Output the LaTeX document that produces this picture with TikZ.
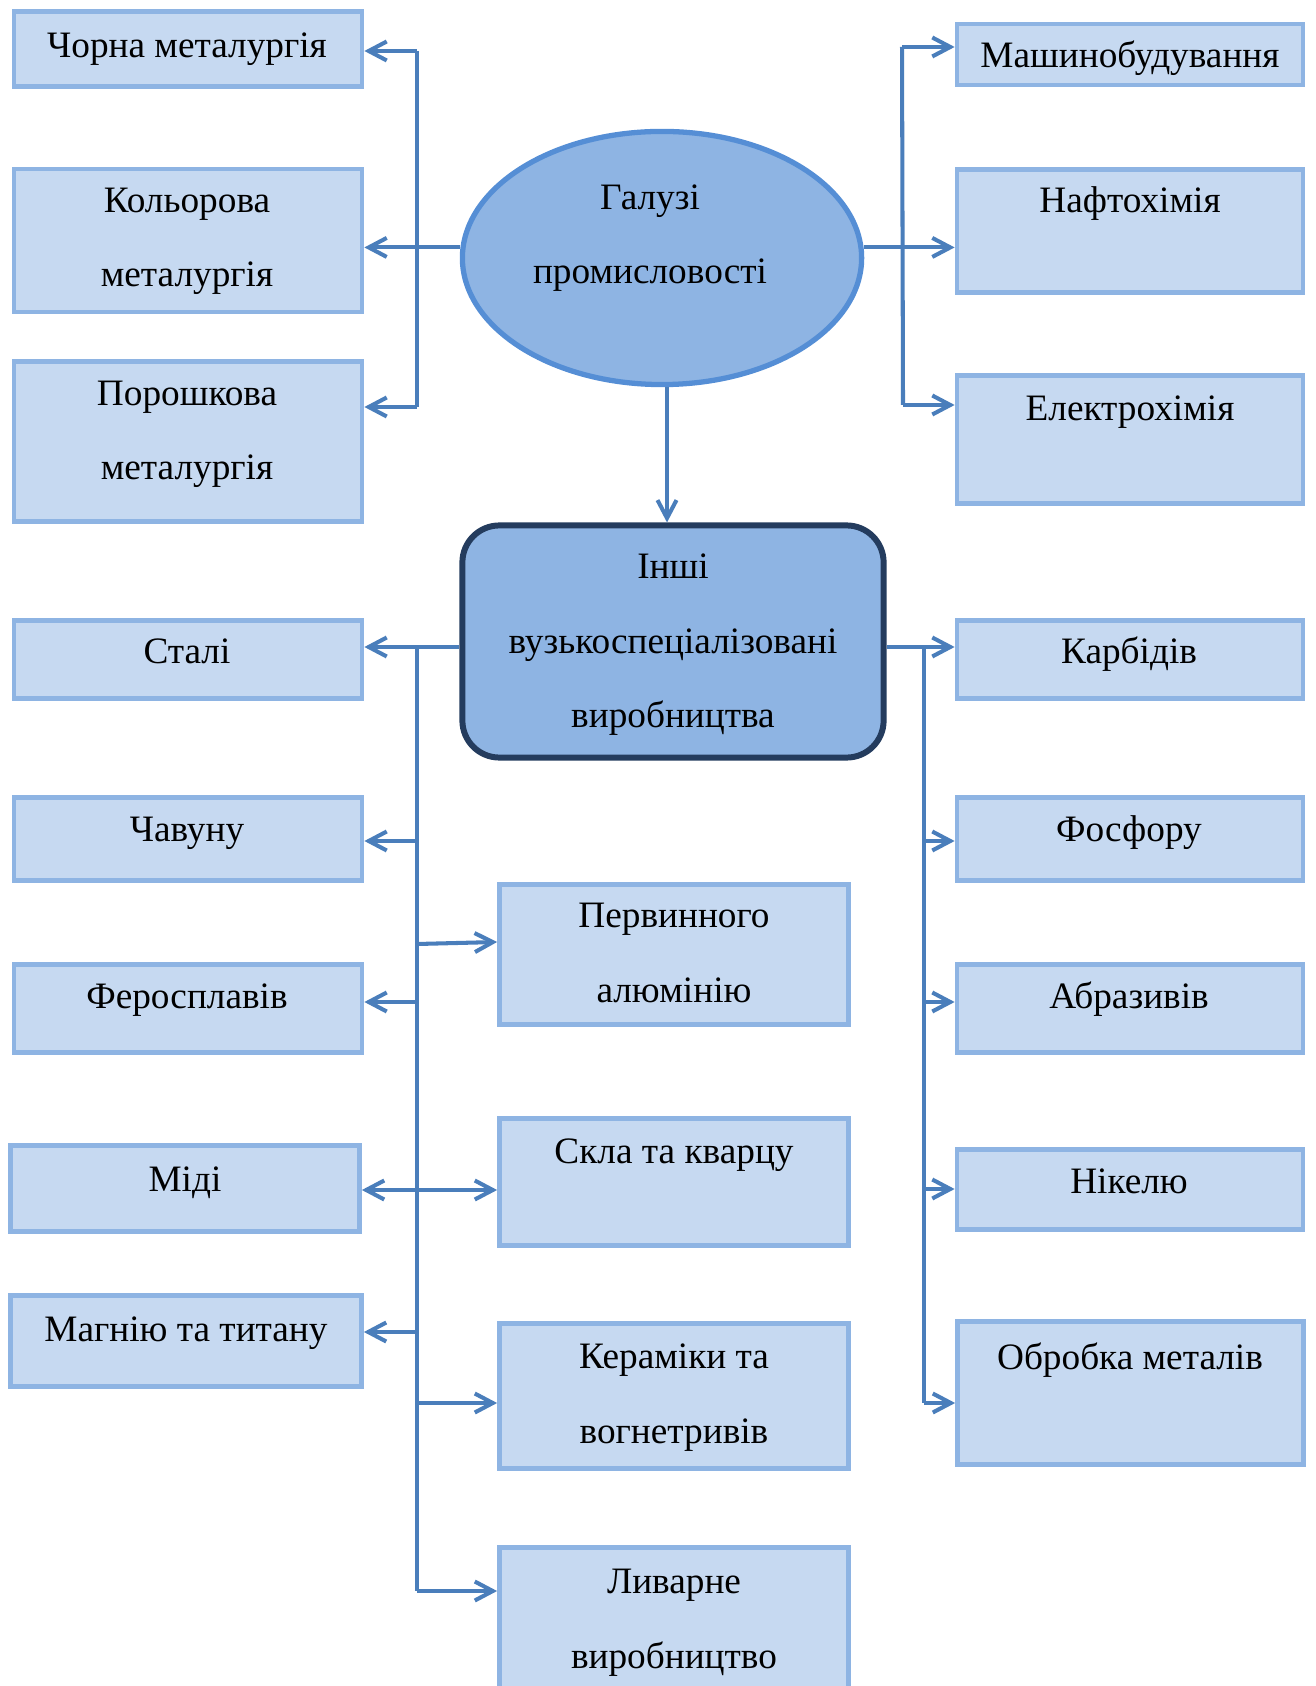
\documentclass[tikz,border=0pt]{standalone}
\usepackage{fontspec}
\setmainfont{Liberation Serif}
\usetikzlibrary{arrows.meta,shapes.geometric}
\definecolor{boxfill}{RGB}{198,217,241}
\definecolor{boxline}{RGB}{142,180,227}
\definecolor{ellline}{RGB}{85,142,213}
\definecolor{arrline}{RGB}{74,126,187}
\definecolor{navy}{RGB}{36,60,94}
\begin{document}
\begin{tikzpicture}[x=0.01cm,y=-0.01cm,
  box/.style={rectangle,draw=boxline,fill=boxfill,line width=1.3pt,minimum width=3.48cm},
  txt/.style={font=\fontsize{10.6}{21.3}\selectfont,align=center,inner sep=0pt,anchor=base},
  ln/.style={draw=arrline,line width=1.15pt},
  arr/.style={ln,-{Straight Barb[length=1.8mm,width=1.9mm]}}]
\useasboundingbox (0,0) rectangle (1315,1686);
% top part
\node[ellipse,draw=ellline,fill=boxline,line width=1.5pt,inner sep=0pt,minimum width=3.99cm,minimum height=2.53cm] (galuzi) at (662,258) {};
\node[txt] (tgaluzi) at (650,284) {Галузі\\промисловості};
\node[box,minimum height=0.75cm] (chorna) at (188,49) {};
\node[box,minimum height=1.43cm] (kolor) at (188,240.5) {};
\node[box,minimum height=1.60cm] (porosh) at (188,441.5) {};
\node[box,minimum width=3.46cm,minimum height=0.61cm] (mash) at (1130,54.5) {};
\node[box,minimum width=3.46cm,minimum height=1.23cm] (nafta) at (1130,231) {};
\node[box,minimum width=3.46cm,minimum height=1.28cm] (elektro) at (1130,439.5) {};
\node[txt] (tchorna) at (187,58) {Чорна металургія};
\node[txt] (tkolor) at (187,287) {Кольорова\\металургія};
\node[txt] (tporosh) at (187,480) {Порошкова\\металургія};
\node[txt] (tmash) at (1130,68) {Машинобудування};
\node[txt] (tnafta) at (1130,213) {Нафтохімія};
\node[txt] (telektro) at (1130,421) {Електрохімія};
% middle block
\node[rectangle,rounded corners=0.37cm,draw=navy,fill=boxline,line width=1.7pt,minimum width=4.21cm,minimum height=2.32cm] (inshi) at (673,641.5) {};
\node[txt] (tinshi) at (673,728) {Інші\\вузькоспеціалізовані\\виробництва};
% lower boxes
\node[box,minimum height=0.78cm] (stali) at (188,659.5) {};
\node[box,minimum height=0.83cm] (chavun) at (188,839) {};
\node[box,minimum height=0.88cm] (feros) at (188,1008.5) {};
\node[box,minimum width=3.49cm,minimum height=0.86cm] (midi) at (185,1188.5) {};
\node[box,minimum width=3.51cm,minimum height=0.91cm] (magnii) at (186,1341) {};
\node[box,minimum width=3.49cm,minimum height=1.40cm] (pervin) at (674,954.5) {};
\node[box,minimum width=3.49cm,minimum height=1.27cm] (skla) at (674,1182) {};
\node[box,minimum width=3.49cm,minimum height=1.45cm] (keram) at (674,1396) {};
\node[box,minimum width=3.49cm,minimum height=1.525cm] (livar) at (674,1623.75) {};
\node[box,minimum width=3.46cm,minimum height=0.78cm] (karbid) at (1130,659.5) {};
\node[box,minimum width=3.46cm,minimum height=0.83cm] (fosfor) at (1130,839) {};
\node[box,minimum width=3.46cm,minimum height=0.88cm] (abraz) at (1130,1008.5) {};
\node[box,minimum width=3.46cm,minimum height=0.80cm] (nikel) at (1130,1189.5) {};
\node[box,minimum width=3.46cm,minimum height=1.43cm] (obrobka) at (1130.5,1393) {};
\node[txt] (tstali) at (187,664) {Сталі};
\node[txt] (tchavun) at (187,841) {Чавуну};
\node[txt] (tferos) at (187,1008) {Феросплавів};
\node[txt] (tmidi) at (185,1191) {Міді};
\node[txt] (tmagnii) at (186,1341) {Магнію та титану};
\node[txt] (tpervin) at (674,1002) {Первинного\\алюмінію};
\node[txt] (tskla) at (674,1163) {Скла та кварцу};
\node[txt] (tkeram) at (674,1443) {Кераміки та\\вогнетривів};
\node[txt] (tlivar) at (674,1668) {Ливарне\\виробництво};
\node[txt] (tkarbid) at (1129,664) {Карбідів};
\node[txt] (tfosfor) at (1129,841) {Фосфору};
\node[txt] (tabraz) at (1129,1008) {Абразивів};
\node[txt] (tnikel) at (1129,1193) {Нікелю};
\node[txt] (tobrobka) at (1130,1369) {Обробка металів};
% connectors, top
\coordinate (tl1) at (417,51);
\coordinate (tl3) at (417,407);
\coordinate (tr1) at (902,47);
\coordinate (tr3) at (903,405);
\coordinate (dn) at (667,0);
\draw[ln] (tl1) -- (tl3);
\draw[arr] (tl1) -- (chorna.east |- tl1);
\draw[arr] (galuzi.177) -- (kolor.east |- galuzi.177);
\draw[arr] (tl3) -- (porosh.east |- tl3);
\draw[ln] (tr1) -- (tr3);
\draw[arr] (tr1) -- (mash.west |- tr1);
\draw[arr] (galuzi.3) -- (nafta.west |- galuzi.3);
\draw[arr] (tr3) -- (elektro.west |- tr3);
\draw[arr] (galuzi.south -| dn) -- (inshi.north -| dn);
% connectors, bottom
\coordinate (bl1) at (417,647);
\coordinate (bl2) at (417,1591);
\coordinate (br1) at (924,647);
\coordinate (br2) at (924,1403);
\draw[arr] (inshi.west |- bl1) -- (stali.east |- bl1);
\draw[ln] (bl1) -- (bl2);
\foreach \n/\y in {chavun/841,feros/1002,midi/1190,magnii/1332} {
  \coordinate (b\n) at (417,\y);
  \draw[arr] (b\n) -- (\n.east |- b\n);
}
\foreach \n/\y in {skla/1190,keram/1403,livar/1591} {
  \coordinate (b\n) at (417,\y);
  \draw[arr] (b\n) -- (\n.west |- b\n);
}
\coordinate (bpervin) at (417,944);
\draw[arr] (bpervin) -- ([yshift=0.125cm]pervin.west);
\draw[arr] (inshi.east |- br1) -- (karbid.west |- br1);
\draw[ln] (br1) -- (br2);
\foreach \n/\y in {fosfor/841,abraz/1002,nikel/1189,obrobka/1403} {
  \coordinate (b\n) at (924,\y);
  \draw[arr] (b\n) -- (\n.west |- b\n);
}
\end{tikzpicture}
\end{document}
